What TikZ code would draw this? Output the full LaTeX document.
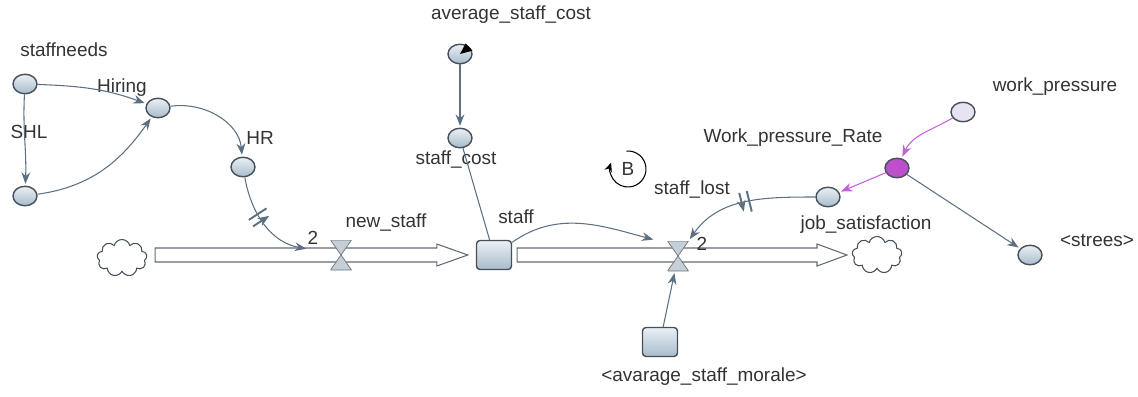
\documentclass[tikz,border=0pt]{standalone}
\usepackage{fontspec}
\setmainfont{Liberation Sans}
\usetikzlibrary{positioning,calc,shapes.geometric,shapes.symbols,arrows.meta,decorations.markings}
\definecolor{auxtop}{HTML}{EAF0F5}
\definecolor{auxbot}{HTML}{A8BBCA}
\definecolor{rim}{HTML}{46505A}
\definecolor{linkc}{HTML}{5C7082}
\definecolor{pinkc}{HTML}{C262D6}
\definecolor{ratec}{HTML}{BE4FCB}
\definecolor{wpc}{HTML}{E7E3F3}
\definecolor{valvec}{HTML}{C6CED6}
\tikzset{auxbase/.style={ellipse, draw=rim, thick, minimum width=0.48cm, minimum height=0.39cm, inner sep=0}}
\tikzset{aux/.style={auxbase, top color=auxtop, bottom color=auxbot}}
\tikzset{stock/.style={rectangle, rounded corners=2, draw=rim, thick, top color=auxtop, bottom color=auxbot, minimum width=0.7cm, minimum height=0.58cm}}
\tikzset{lbl/.style={inner sep=1pt, text=black!80}}
\tikzset{lnk/.style={draw=linkc, semithick, shorten >=1pt, -{Stealth[length=6.5pt,width=5pt]}}}
\tikzset{delay/.style={postaction={decorate}, decoration={markings, mark=at position #1 with {\draw[linkc, line width=1.1pt] (-2.2pt,-6pt) -- (-2.2pt,6pt) (2.2pt,-6pt) -- (2.2pt,6pt);}}}}
\tikzset{valve/.style={rectangle, minimum width=0.42cm, minimum height=0.6cm, inner sep=0, path picture={\filldraw[fill=valvec, draw=rim!80] (path picture bounding box.north west) -- (path picture bounding box.north east) -- (path picture bounding box.south west) -- (path picture bounding box.south east) -- cycle;}}}
\tikzset{pipe/.style={draw=rim!85, fill=white, semithick}}
\tikzset{src/.style={cloud, cloud puffs=9, aspect=1.4, draw=rim, semithick, minimum width=1cm, minimum height=0.74cm, inner sep=0}}

\begin{document}
\begin{tikzpicture}[x=0.02cm, y=0.02cm, font=\fontsize{10.8}{13}\selectfont]
\useasboundingbox (0,0) rectangle (1138,-396);
% hiring side
\node[aux] (sn) at (25,-84) {};
\node[lbl] (snl) at (64,-50) {staffneeds};
\node[aux] (hir) at (158,-108) {};
\node[lbl] (hirl) at (122,-88) {Hiring};
\node[aux] (shl) at (25,-196) {};
\node[lbl] (shll) at (29,-132) {SHL};
\node[aux] (hr) at (243,-167) {};
\node[lbl] (hrl) at (260,-138) {HR};
%
\node[src] (cl) at (122,-258) {};
\node[stock] (stk) at (494,-255) {};
\node[lbl] (stkl) at (516,-217) {staff};
\node[src] (cr) at (877,-255) {};
% pipes
\coordinate (p1a) at ($(cl.east |- stk)+(8,0)$);
\coordinate (p1b) at ($(stk.west)+(-8,0)$);
\draw[pipe] ($(p1a)+(0,7)$) -- ($(p1b)+(-31,7)$) -- ++(0,4) -- (p1b) -- ($(p1b)+(-31,-11)$) -- ++(0,4) -- ($(p1a)+(0,-7)$) -- cycle;
\coordinate (p2a) at ($(stk.east)+(5,0)$);
\coordinate (p2b) at ($(cr.west |- stk)+(-5,0)$);
\draw[pipe] ($(p2a)+(0,7)$) -- ($(p2b)+(-30,7)$) -- ++(0,4) -- (p2b) -- ($(p2b)+(-30,-11)$) -- ++(0,4) -- ($(p2a)+(0,-7)$) -- cycle;
\node[valve] (v1) at (341,-255) {};
\node[lbl] (v1l) at (386,-223) {new\_staff};
\node[lbl] (d1) at (313,-238) {2};
\node[valve] (v2) at (678,-256) {};
\node[lbl] (v2l) at (692,-190) {staff\_lost};
\node[lbl] (d2) at (702,-244) {2};
% cost
\node[aux] (avg) at (460,-54) {};
\fill[black] (avg.center) -- ($(avg.center)+(15:13)$) -- ($(avg.center)+(62:12)$) -- cycle;
\node[lbl] (avgl) at (511,-15) {average\_staff\_cost};
\node[aux] (sc) at (460,-138) {};
\node[lbl] (scl) at (456,-160) {staff\_cost};
\node[lbl, inner sep=0] (bl) at (628,-169) {B};
% pressure side
\node[aux] (js) at (828,-197) {};
\node[lbl] (jsl) at (866,-225) {job\_satisfaction};
\node[auxbase, fill=wpc] (wp) at (963,-112) {};
\node[lbl] (wpl) at (1055,-87) {work\_pressure};
\node[auxbase, fill=ratec] (wpr) at (897,-168) {};
\node[lbl] (wprl) at (793,-138) {Work\_pressure\_Rate};
\node[aux] (str) at (1030,-255) {};
\node[lbl] (strl) at (1097,-240) {<strees>};
\node[stock] (mor) at (660,-342) {};
\node[lbl] (morl) at (704,-377) {<avarage\_staff\_morale>};
%
\draw[lnk] (sn) to[out=-2,in=160] (hir);
\draw[lnk] (sn) to[out=-93,in=88] (shl);
\draw[lnk] (shl) to[out=8,in=-125] (hir);
\draw[lnk] (hir) to[out=8,in=95] (hr);
\coordinate (v1in) at ($(v1)+(-33,6)$);
\draw[lnk, delay=0.42] (hr) to[out=-80,in=170] (v1in);
\draw[lnk] (avg) -- (sc);
\draw[draw=linkc, semithick] (sc) -- (stk);
\coordinate (v2in) at ($(v2)+(-23,16)$);
\draw[lnk] (stk) to[out=35,in=165] (v2in);
\draw[lnk, delay=0.5] (js) to[out=180,in=55] (v2);
\draw[lnk] (mor) -- (v2);
\draw[lnk, draw=pinkc] (wp) to[out=-150,in=65] (wpr);
\draw[lnk, draw=pinkc] (wpr) -- (js);
\draw[lnk] (wpr) -- (str);
% loop
\draw[black, semithick, -{Stealth[length=5pt,width=4.5pt]}] ($(bl)+(95:18)$) arc[start angle=95, end angle=-200, radius=0.36cm];
\end{tikzpicture}
\end{document}
